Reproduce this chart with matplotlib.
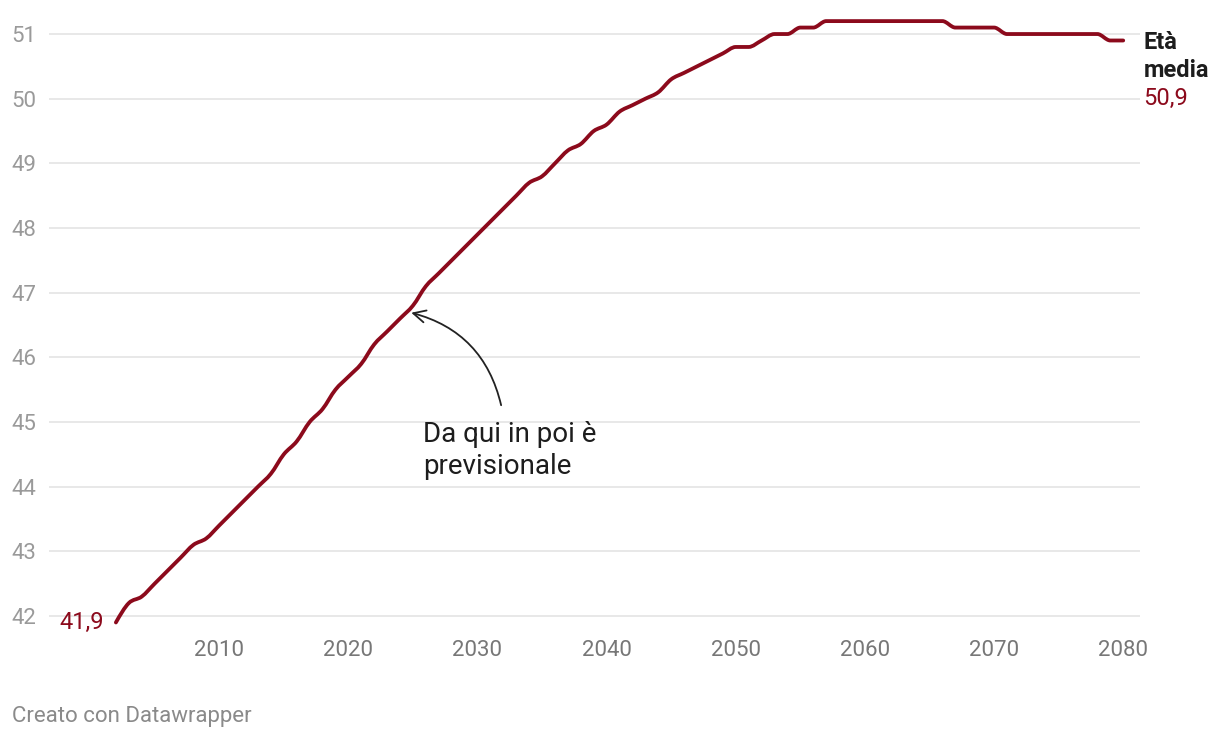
import numpy as np
import matplotlib
matplotlib.use('Agg')
import matplotlib.pyplot as plt
from matplotlib.path import Path
from matplotlib.patches import PathPatch

# Eta media della popolazione, dati e previsioni
years = list(range(2002, 2081))
values = [
  41.9, 42.2, 42.3, 42.5, 42.7, 42.9, 43.1, 43.2, 43.4, 43.6,   # 2002-2011
  43.8, 44.0, 44.2, 44.5, 44.7, 45.0, 45.2, 45.5, 45.7, 45.9,   # 2012-2021
  46.2, 46.4, 46.6, 46.8, 47.1, 47.3, 47.5, 47.7, 47.9, 48.1,   # 2022-2031
  48.3, 48.5, 48.7, 48.8, 49.0, 49.2, 49.3, 49.5, 49.6, 49.8,   # 2032-2041
  49.9, 50.0, 50.1, 50.3, 50.4, 50.5, 50.6, 50.7, 50.8, 50.8,   # 2042-2051
  50.9, 51.0, 51.0, 51.1, 51.1, 51.2, 51.2, 51.2, 51.2, 51.2,   # 2052-2061
  51.2, 51.2, 51.2, 51.2, 51.2, 51.1, 51.1, 51.1, 51.1, 51.0,   # 2062-2071
  51.0, 51.0, 51.0, 51.0, 51.0, 51.0, 51.0, 50.9, 50.9,         # 2072-2080
]
xTicks = [2010, 2020, 2030, 2040, 2050, 2060, 2070, 2080]
yTicks = [42, 43, 44, 45, 46, 47, 48, 49, 50, 51]
annotationText = 'Da qui in poi è\nprevisionale'
forecastYear = 2024.87
forecastValue = 46.69

lineColor = '#8c0a1c'
fontSize = 16
labelSize = 17

plt.rcParams['font.family'] = ['Roboto', 'DejaVu Sans']

def monotonePath(x, y):
  # monotone cubic curve through the points (like d3.curveMonotoneX)
  x = np.asarray(x, float)
  y = np.asarray(y, float)
  n = len(x)
  h = np.diff(x)
  s = np.diff(y) / h
  t = np.zeros(n)
  for i in range(1, n - 1):
    p = (s[i - 1] * h[i] + s[i] * h[i - 1]) / (h[i - 1] + h[i])
    t[i] = (np.sign(s[i - 1]) + np.sign(s[i])) * min(abs(s[i - 1]), abs(s[i]), 0.5 * abs(p))
  t[0] = (3 * s[0] - t[1]) / 2
  t[-1] = (3 * s[-1] - t[-2]) / 2
  verts = [(x[0], y[0])]
  codes = [Path.MOVETO]
  for i in range(n - 1):
    dx = h[i] / 3
    verts += [(x[i] + dx, y[i] + t[i] * dx), (x[i + 1] - dx, y[i + 1] - t[i + 1] * dx), (x[i + 1], y[i + 1])]
    codes += [Path.CURVE4] * 3
  return Path(verts, codes)

W, H = 1220, 738
fig = plt.figure(figsize=(W / 100, H / 100), dpi=100)

# axes placed in pixel units
left, right = 49, 1140
top, bottom = 11.4, 635.4
ax = fig.add_axes([left / W, 1 - bottom / H, (right - left) / W, (bottom - top) / H])

ax.add_patch(PathPatch(monotonePath(years, values), fill=False, edgecolor=lineColor, linewidth=2.75,
                       joinstyle='round', capstyle='round', zorder=3, clip_on=False))

ax.set_xlim(1996.82, 2081.3)
ax.set_ylim(41.7, 51.35)

ax.set_xticks(xTicks)
ax.set_xticklabels([str(t) for t in xTicks])
ax.set_yticks(yTicks)
ax.set_yticklabels([str(t) for t in yTicks])

ax.tick_params(axis='x', length=0, pad=3, labelsize=fontSize, labelcolor='#777777')
ax.tick_params(axis='y', length=0, pad=27, labelsize=fontSize, labelcolor='#9a9a9a')
for lbl in ax.get_yticklabels():
  lbl.set_horizontalalignment('left')

for s in ax.spines.values():
  s.set_visible(False)

ax.yaxis.grid(True, color='#e2e2e2', linewidth=1.1)
ax.set_axisbelow(True)

# start / end labels
ax.annotate('41,9', xy=(years[0], values[0]), xytext=(-8.5, 0), textcoords='offset points',
            ha='right', va='center', fontsize=labelSize, color=lineColor)
ax.annotate('Età', xy=(years[-1], values[-1]), xytext=(14.5, -6.2), textcoords='offset points',
            ha='left', va='baseline', fontsize=labelSize, fontweight='bold', color='#1d1d1d', annotation_clip=False)
ax.annotate('media', xy=(years[-1], values[-1]), xytext=(14.5, -26.4), textcoords='offset points',
            ha='left', va='baseline', fontsize=labelSize, fontweight='bold', color='#1d1d1d', annotation_clip=False)
ax.annotate('50,9', xy=(years[-1], values[-1]), xytext=(14.5, -46.5), textcoords='offset points',
            ha='left', va='baseline', fontsize=labelSize, color=lineColor, annotation_clip=False)

# arrow + note
ax.annotate('', xy=(forecastYear, forecastValue), xytext=(2031.83, 45.26),
            arrowprops=dict(arrowstyle='->', color='#222222', lw=1.3, mutation_scale=22,
                            connectionstyle='arc3,rad=0.3', shrinkA=0, shrinkB=0))
ax.text(2025.8, 45.02, annotationText, ha='left', va='top', fontsize=20, color='#1d1d1d', linespacing=1.27)

fig.text(12 / W, 1 - 722 / H, 'Creato con Datawrapper', ha='left', va='baseline', fontsize=fontSize, color='#8a8a8a')

fig.savefig('out.png', dpi=100)
